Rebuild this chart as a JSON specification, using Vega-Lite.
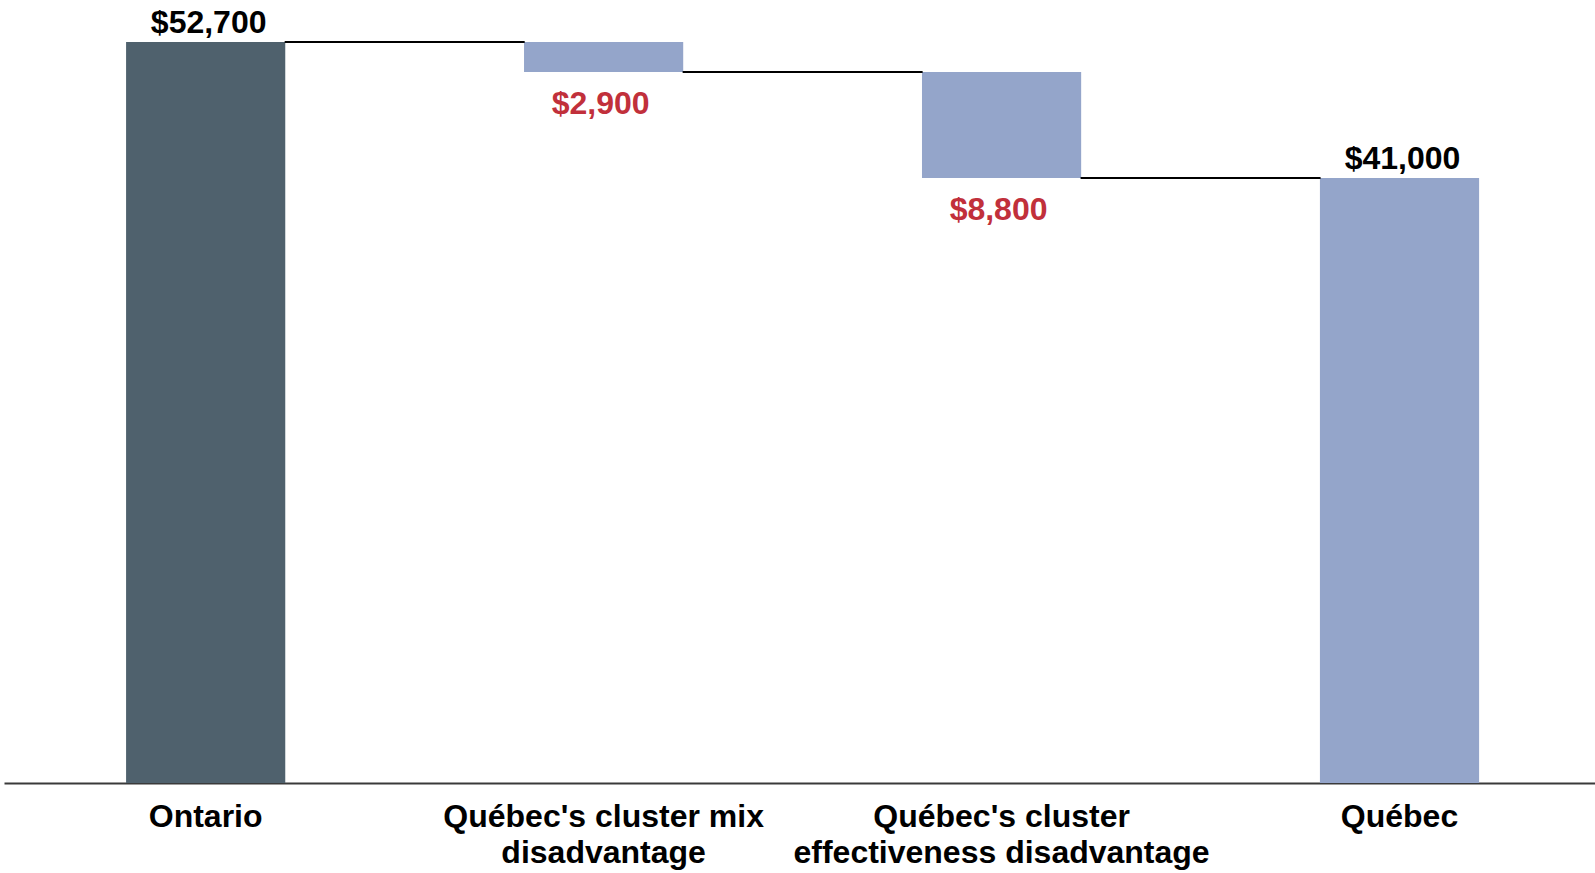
{
  "$schema": "https://vega.github.io/schema/vega-lite/v6.json",
  "width": 1591,
  "height": 783,
  "autosize": {"type": "none"},
  "padding": {"left": 4, "top": 0, "right": 0, "bottom": 90},
  "background": "white",
  "config": {"view": {"stroke": null}, "font": "Liberation Sans"},
  "data": {
    "values": [
      {"category": "Ontario", "start": 0, "end": 52700, "label": "$52,700", "kind": "total", "hasNext": true},
      {"category": "Québec's cluster mix|disadvantage", "start": 52700, "end": 50570, "label": "$2,900", "kind": "decrease", "hasNext": true},
      {"category": "Québec's cluster|effectiveness disadvantage", "start": 50570, "end": 43030, "label": "$8,800", "kind": "decrease", "hasNext": true},
      {"category": "Québec", "start": 0, "end": 43030, "label": "$41,000", "kind": "final", "hasNext": false}
    ]
  },
  "encoding": {
    "x": {
      "field": "category", "type": "nominal",
      "sort": ["Ontario", "Québec's cluster mix|disadvantage", "Québec's cluster|effectiveness disadvantage", "Québec"],
      "scale": {"paddingInner": 0.6, "paddingOuter": 0.299, "align": 0.513},
      "axis": {
        "title": null,
        "labelAngle": 0,
        "labelExpr": "split(datum.value, '|')",
        "labelFont": "Liberation Sans",
        "labelFontSize": 32,
        "labelFontWeight": "bold",
        "labelColor": "black",
        "labelLineHeight": 36,
        "labelPadding": 18,
        "labelLimit": 0,
        "ticks": false,
        "domainColor": "#3a3a3a",
        "domainWidth": 2,
        "grid": false
      }
    }
  },
  "layer": [
    {
      "mark": {"type": "bar"},
      "encoding": {
        "y": {"field": "start", "type": "quantitative", "scale": {"domain": [0, 55690], "nice": false}, "axis": null},
        "y2": {"field": "end"},
        "color": {
          "field": "kind", "type": "nominal", "legend": null,
          "scale": {"domain": ["total", "decrease", "final"], "range": ["#4f616d", "#94a5ca", "#94a5ca"]}
        }
      }
    },
    {
      "transform": [{"filter": "datum.hasNext"}],
      "mark": {"type": "tick", "orient": "horizontal", "color": "black", "thickness": 2, "size": 240, "opacity": 1},
      "encoding": {
        "xOffset": {"value": 278.6},
        "y": {"field": "end", "type": "quantitative", "axis": null}
      }
    },
    {
      "transform": [{"filter": "datum.kind != 'decrease'"}],
      "mark": {"type": "text", "font": "Liberation Sans", "fontSize": 32, "fontWeight": "bold", "color": "black", "baseline": "middle", "dy": -19, "dx": 3},
      "encoding": {
        "y": {"field": "end", "type": "quantitative", "axis": null},
        "text": {"field": "label"}
      }
    },
    {
      "transform": [{"filter": "datum.kind == 'decrease'"}],
      "mark": {"type": "text", "font": "Liberation Sans", "fontSize": 32, "fontWeight": "bold", "color": "#c1303b", "baseline": "middle", "dy": 32, "dx": -3},
      "encoding": {
        "y": {"field": "end", "type": "quantitative", "axis": null},
        "text": {"field": "label"}
      }
    }
  ]
}
